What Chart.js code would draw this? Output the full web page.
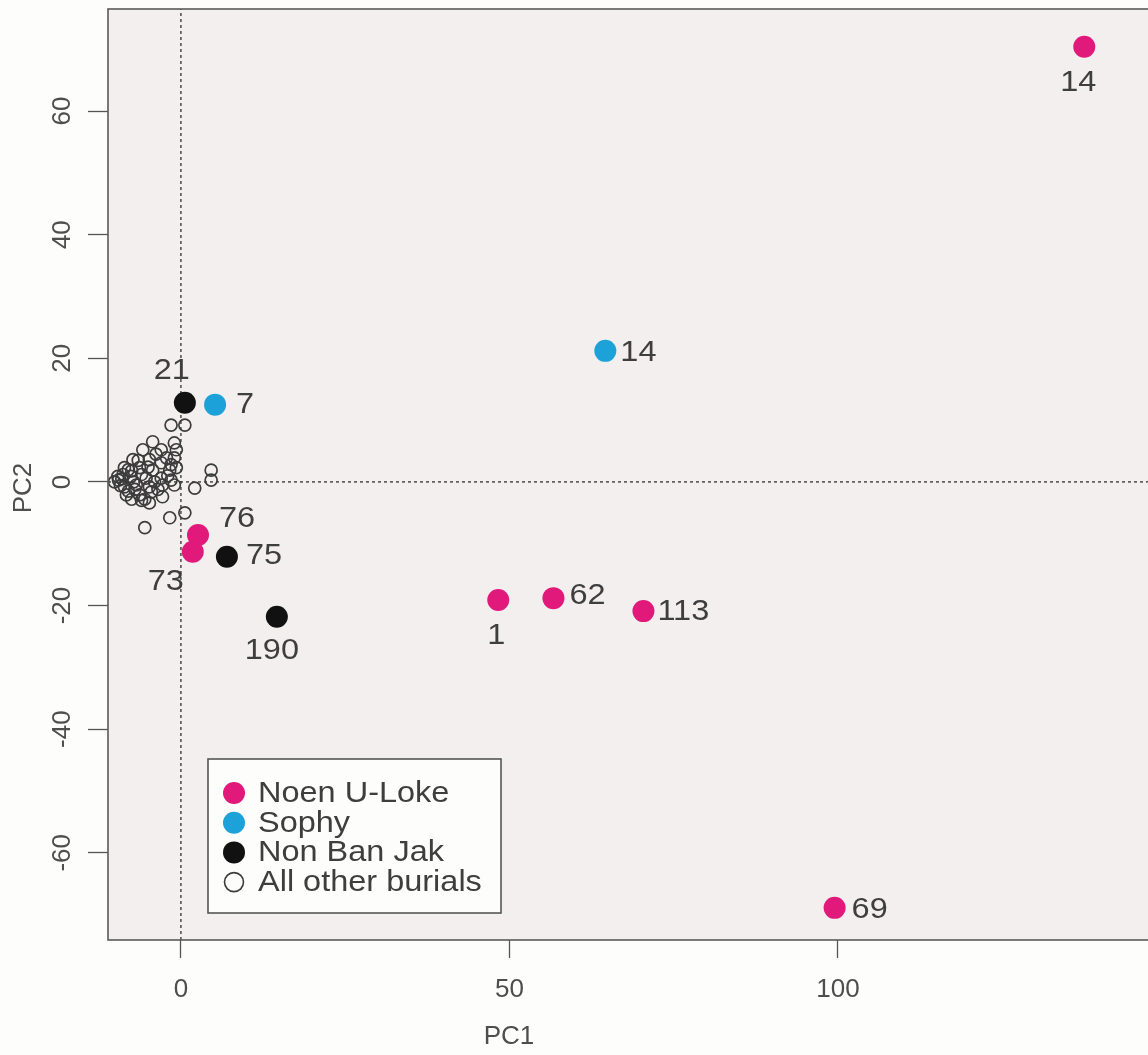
<!DOCTYPE html>
<html>
<head>
<meta charset="utf-8">
<title>PC1 vs PC2 burials</title>
<script src="https://cdn.jsdelivr.net/npm/chart.js@4/dist/chart.umd.min.js"></script>
<style>
  html, body { margin: 0; padding: 0; background: #fdfdfb; }
  #wrap { width: 1148px; height: 1055px; position: relative; }
</style>
</head>
<body>
<div id="wrap"><canvas id="c" width="1148" height="1055"></canvas></div>
<script>
// Burial scores on the first two principal components, by site
const noenIds = ['14', '69', '113', '62', '1', '76', '73'];
const noenPC1 = [137.5, 99.5, 70.4, 56.7, 48.3, 2.6, 1.8];
const noenPC2 = [70.4, -68.9, -20.9, -18.8, -19.1, -8.6, -11.3];

const sophyIds = ['14', '7'];
const sophyPC1 = [64.6, 5.2];
const sophyPC2 = [21.2, 12.5];

const nbjIds = ['21', '75', '190'];
const nbjPC1 = [0.6, 7.0, 14.6];
const nbjPC2 = [12.8, -12.1, -21.8];

const otherPC1 = [-1.5, 0.6, -4.3, -1.0, -0.7, -1.0, -5.8, -3.0, -7.3, -4.8, -3.0, -1.5,
                  -8.6, -6.3, -4.3, -1.7, -0.7, 4.6, -9.6, -7.6, -5.3, -3.0, -1.5, -10.1,
                  4.6, -8.6, -6.8, -4.8, -2.8, -1.0, 2.1, -8.3, -6.3, -4.5, -2.8, -4.8,
                  -1.7, 0.6, -5.5, -9.0, -7.5, -6.5, -8.0, -5.5, -3.8, -7.0, -9.2,
                  -9.5, -8.8, -8.0, -7.2, -6.0, -5.0, -4.0, -3.5, -2.0, -2.2, -6.0, -7.5];
const otherPC2 = [9.2, 9.2, 6.5, 6.3, 5.2, 3.9, 5.2, 5.2, 3.6, 3.6, 3.1, 2.8,
                  2.3, 2.3, 1.9, 1.9, 2.3, 1.9, 0.9, 0.9, 0.6, 0.6, 0.3, 0.0,
                  0.3, -0.8, -0.5, -0.8, -0.5, -0.5, -1.0, -2.1, -2.1, -1.6, -2.4, -3.4,
                  -5.8, -5.0, -7.4, 0.5, 1.8, 3.5, -1.5, -2.8, 4.5, -1.2, -0.6,
                  0.3, 1.2, 2.0, 0.0, 1.2, 2.4, 0.0, -1.2, 1.0, 3.9, -3.0, -2.8];

const xTickValues = [0, 50, 100];
const yTickValues = [-60, -40, -20, 0, 20, 40, 60];

// Visible window of the axes
const X_MIN = -11.1, X_MAX = 147.2, Y_MIN = -74.1, Y_MAX = 76.5;

// Label placement for the numbered burials: [dx, dy, textAlign]
const noenLabelPos = [[-6, 36, 'center'], [17, 2, 'left'], [14, 1, 'left'], [16, -2, 'left'],
                      [-2, 36, 'center'], [39, -16, 'center'], [-27, 30, 'center']];
const sophyLabelPos = [[15, 2, 'left'], [21, 0, 'left']];
const nbjLabelPos = [[-13, -32, 'center'], [19, -1, 'left'], [-5, 34, 'center']];

const FONT = "'Liberation Sans', Arial, Helvetica, sans-serif";
const TEXT = '#3e3e3e';
const AXIS_TEXT = '#4e4e4e';
const STRETCH = 1.12;

const pts = (xs, ys) => xs.map((x, i) => ({ x: x, y: ys[i] }));

// Text drawn slightly widened, anchored at (x, y)
function wideText(ctx, str, x, y, align) {
  ctx.save();
  ctx.translate(x, y);
  ctx.scale(STRETCH, 1);
  ctx.textAlign = align;
  ctx.fillText(str, 0, 0);
  ctx.restore();
}

const plotFrame = {
  id: 'plotFrame',
  beforeDraw(chart) {
    const { ctx, chartArea: a } = chart;
    ctx.save();
    ctx.fillStyle = '#fdfdfb';
    ctx.fillRect(0, 0, chart.width, chart.height);
    ctx.fillStyle = '#f3efef';
    ctx.fillRect(a.left, a.top, a.right - a.left, a.bottom - a.top);
    ctx.restore();
  },
  afterDraw(chart) {
    const { ctx, chartArea: a } = chart;
    ctx.save();
    ctx.strokeStyle = '#5a5a5a';
    ctx.lineWidth = 1.6;
    ctx.strokeRect(a.left, a.top, a.right - a.left + 10, a.bottom - a.top);
    ctx.restore();
  }
};

const axisText = {
  id: 'axisText',
  afterDraw(chart) {
    const { ctx, chartArea: a } = chart;
    const ys = chart.scales.y;
    ctx.save();
    ctx.fillStyle = AXIS_TEXT;
    ctx.textBaseline = 'middle';
    ctx.font = '26px ' + FONT;
    ys.ticks.forEach(t => {
      const py = ys.getPixelForValue(t.value);
      ctx.save();
      ctx.translate(63, py);
      ctx.rotate(-Math.PI / 2);
      ctx.textAlign = 'center';
      ctx.fillText(String(t.value), 0, 0);
      ctx.restore();
    });
    // axis titles
    ctx.font = '26px ' + FONT;
    ctx.textAlign = 'center';
    ctx.fillText('PC1', a.left + 401, 1037);
    ctx.save();
    ctx.translate(24, 488);
    ctx.rotate(-Math.PI / 2);
    ctx.fillText('PC2', 0, 0);
    ctx.restore();
    ctx.restore();
  }
};

const pointText = {
  id: 'pointText',
  afterDatasetsDraw(chart) {
    const { ctx } = chart;
    ctx.save();
    ctx.fillStyle = TEXT;
    ctx.font = '29px ' + FONT;
    ctx.textBaseline = 'middle';
    chart.data.datasets.forEach((ds, i) => {
      if (!ds.ids) return;
      const meta = chart.getDatasetMeta(i);
      meta.data.forEach((el, j) => {
        const p = ds.labelPos[j];
        wideText(ctx, ds.ids[j], el.x + p[0], el.y + p[1], p[2]);
      });
    });
    ctx.restore();
  }
};

const boxLegend = {
  id: 'boxLegend',
  afterDraw(chart) {
    const { ctx, chartArea: a } = chart;
    const left = a.left + 100, top = 759, w = 293, h = 154;
    ctx.save();
    ctx.fillStyle = '#fdfdfc';
    ctx.fillRect(left, top, w, h);
    ctx.strokeStyle = '#555555';
    ctx.lineWidth = 1.6;
    ctx.strokeRect(left, top, w, h);
    const items = chart.data.datasets.filter(d => !d.label.startsWith('_'));
    ctx.font = '29px ' + FONT;
    ctx.textBaseline = 'middle';
    items.forEach((d, k) => {
      const cy = top + 34 + k * 29.7;
      const cx = left + 26;
      ctx.beginPath();
      if (d.legendHollow) {
        ctx.arc(cx, cy, 9.5, 0, Math.PI * 2);
        ctx.strokeStyle = d.borderColor;
        ctx.lineWidth = 1.6;
        ctx.stroke();
      } else {
        ctx.arc(cx, cy, 11, 0, Math.PI * 2);
        ctx.fillStyle = d.backgroundColor;
        ctx.fill();
      }
      ctx.fillStyle = TEXT;
      wideText(ctx, d.label, left + 50, cy + 1, 'left');
    });
    ctx.restore();
  }
};

new Chart(document.getElementById('c'), {
  type: 'scatter',
  data: {
    datasets: [
      { label: 'Noen U-Loke', data: pts(noenPC1, noenPC2), ids: noenIds, labelPos: noenLabelPos,
        backgroundColor: '#e0197b', borderColor: '#e0197b', borderWidth: 0, pointRadius: 11, pointHoverRadius: 11 },
      { label: 'Sophy', data: pts(sophyPC1, sophyPC2), ids: sophyIds, labelPos: sophyLabelPos,
        backgroundColor: '#1ca2d8', borderColor: '#1ca2d8', borderWidth: 0, pointRadius: 11, pointHoverRadius: 11 },
      { label: 'Non Ban Jak', data: pts(nbjPC1, nbjPC2), ids: nbjIds, labelPos: nbjLabelPos,
        backgroundColor: '#111111', borderColor: '#111111', borderWidth: 0, pointRadius: 11, pointHoverRadius: 11 },
      { label: 'All other burials', data: pts(otherPC1, otherPC2), legendHollow: true,
        backgroundColor: 'rgba(0,0,0,0)', borderColor: '#3c3c3c', borderWidth: 1.7, pointRadius: 6, pointHoverRadius: 6 },
      { label: '_zeroX', data: [{ x: 0, y: Y_MIN }, { x: 0, y: Y_MAX }], showLine: true,
        borderColor: '#222222', borderWidth: 1.2, borderDash: [3, 3], pointRadius: 0 },
      { label: '_zeroY', data: [{ x: X_MIN, y: 0 }, { x: X_MAX, y: 0 }], showLine: true,
        borderColor: '#222222', borderWidth: 1.2, borderDash: [3, 3], pointRadius: 0 }
    ]
  },
  options: {
    responsive: false,
    animation: false,
    events: [],
    layout: { autoPadding: false, padding: { top: 9, left: 0, right: 0, bottom: 0 } },
    plugins: { legend: { display: false }, tooltip: { enabled: false } },
    scales: {
      x: {
        type: 'linear', min: X_MIN, max: X_MAX,
        afterBuildTicks: s => { s.ticks = xTickValues.map(v => ({ value: v })); },
        afterFit: s => { s.height = 115; s.paddingLeft = 0; s.paddingRight = 0; },
        border: { display: false },
        grid: { drawOnChartArea: false, drawTicks: true, tickLength: 18, tickColor: '#555555', tickWidth: 1.3 },
        ticks: { color: AXIS_TEXT, font: { family: FONT, size: 26 }, padding: 16, maxRotation: 0 },
        title: { display: false }
      },
      y: {
        type: 'linear', min: Y_MIN, max: Y_MAX,
        afterBuildTicks: s => { s.ticks = yTickValues.map(v => ({ value: v })); },
        afterFit: s => { s.width = 108; s.paddingTop = 0; s.paddingBottom = 0; },
        border: { display: false },
        grid: { drawOnChartArea: false, drawTicks: true, tickLength: 20, tickColor: '#555555', tickWidth: 1.3 },
        ticks: { display: false },
        title: { display: false }
      }
    }
  },
  plugins: [plotFrame, pointText, axisText, boxLegend]
});
</script>
</body>
</html>
